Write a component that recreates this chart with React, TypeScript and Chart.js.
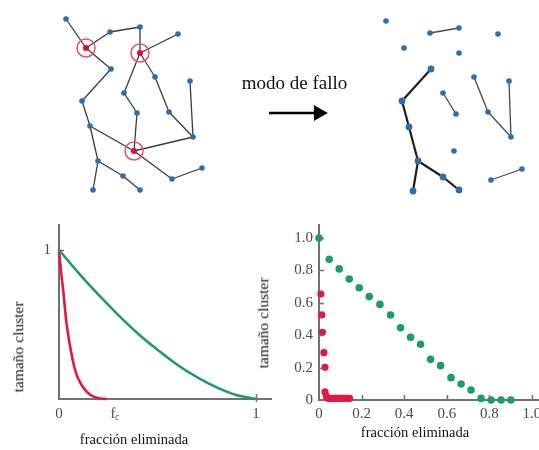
import React, { useEffect, useRef } from 'react';
import { Chart, registerables } from 'chart.js';

Chart.register(...registerables);

const SERIF = '"Liberation Serif", "Times New Roman", Times, serif';

// ---------------- Top: network before / after failure ----------------
const nodeIds = ['A', 'B', 'C', 'D', 'E', 'F', 'G', 'H', 'I', 'J', 'K', 'L', 'M', 'N', 'O', 'P', 'Q', 'R', 'S', 'T', 'U', 'V'];
const beforeX = [66, 86, 110, 140, 140, 178, 111, 155, 190, 124, 82, 169, 137, 90, 193, 134, 98, 202, 172, 123, 93, 140];
const beforeY = [19, 48, 32, 27, 53, 34, 69, 77, 81, 93, 101, 112, 113, 126, 137, 151, 161, 168, 179, 176, 190, 190];
const afterX = [386, 404, 430, 459, 459, 498, 431, 474, 509, 443, 402, 488, 456, 409, 511, 454, 418, 522, 491, 443, 413, 459];
const afterY = [21, 48, 33, 28, 53, 34, 69, 77, 81, 93, 101, 112, 114, 127, 137, 151, 161, 169, 180, 177, 191, 190];
const failedNodes = ['B', 'E', 'P'];
const beforeEdges = ['A-B', 'B-C', 'C-D', 'D-E', 'E-F', 'B-G', 'G-K', 'K-N', 'N-Q', 'Q-U', 'Q-T', 'T-V', 'N-P', 'E-J', 'J-M', 'M-P', 'E-H', 'H-L', 'L-O', 'I-O', 'P-O', 'P-S', 'S-R'];
const afterMainEdges = ['G-K', 'K-N', 'N-Q', 'Q-U', 'Q-T', 'T-V'];
const afterMinorEdges = ['C-D', 'J-M', 'H-L', 'L-O', 'I-O', 'S-R'];
const mainClusterNodes = ['G', 'K', 'N', 'Q', 'U', 'T', 'V'];
const arrowShaftX = [269, 314];
const arrowHeadX = [318.5];
const arrowY = [113];

// ---------------- Bottom left: schematic curves ----------------
const fcValue = 0.274;
const leftXTicks = [0, fcValue, 1];
const leftYTicks = [1];
const randomCurveX = [0, 0.1, 0.2, 0.3, 0.4, 0.5, 0.6, 0.7, 0.8, 0.9, 1.0];
const randomCurveY = [1, 0.845, 0.7, 0.565, 0.44, 0.33, 0.23, 0.147, 0.078, 0.027, 0];
const attackCurveX = [0, 0.01, 0.022, 0.039, 0.068, 0.09, 0.115, 0.149, 0.18, 0.208, 0.24];
const attackCurveY = [1, 0.86, 0.72, 0.5, 0.27, 0.16, 0.094, 0.038, 0.014, 0.004, 0];

// ---------------- Bottom right: simulated points ----------------
const axisTicks = [0, 0.2, 0.4, 0.6, 0.8, 1.0];
const randomPtsX = [0, 0.048, 0.095, 0.142, 0.189, 0.236, 0.286, 0.336, 0.383, 0.43, 0.477, 0.524, 0.571, 0.62, 0.667, 0.714, 0.761, 0.808, 0.855, 0.901];
const randomPtsY = [1.0, 0.869, 0.809, 0.747, 0.693, 0.638, 0.59, 0.525, 0.446, 0.387, 0.344, 0.251, 0.212, 0.138, 0.099, 0.062, 0.01, 0.0, 0.0, 0.0];
const attackPtsX = [0.009, 0.013, 0.016, 0.023, 0.028, 0.028, 0.034, 0.04, 0.048, 0.056, 0.064, 0.072, 0.08, 0.088, 0.096, 0.104, 0.112, 0.12, 0.128, 0.136, 0.144];
const attackPtsY = [0.654, 0.525, 0.418, 0.292, 0.202, 0.051, 0.025, 0.012, 0.01, 0.01, 0.01, 0.01, 0.01, 0.01, 0.01, 0.01, 0.01, 0.01, 0.01, 0.01, 0.01];

const GREEN = '#1c9b6d';
const RED = '#df1a41';
const BLUE = '#2d6eab';
const AXIS = '#727272';
const TICKTXT = '#4a4a4a';

const idx = (id: string) => nodeIds.indexOf(id);
const pt = (xs: number[], ys: number[], id: string) => ({ x: xs[idx(id)], y: ys[idx(id)] });
const zip = (xs: number[], ys: number[]) => xs.map((x, i) => ({ x, y: ys[i] }));

const edgeSets = (xs: number[], ys: number[], edges: string[], color: string, width: number) =>
  edges.map((e) => {
    const [a, b] = e.split('-');
    return {
      data: [pt(xs, ys, a), pt(xs, ys, b)],
      showLine: true,
      borderColor: color,
      borderWidth: width,
      pointRadius: 0,
      clip: false,
      order: 5,
    };
  });

const innerTicks = {
  id: 'innerTicks',
  afterDraw(chart: any, _a: any, opts: any) {
    const { ctx, chartArea: a, scales } = chart;
    const x = scales.x;
    const y = scales.y;
    ctx.save();
    ctx.strokeStyle = opts.color;
    ctx.lineWidth = opts.width;
    ctx.beginPath();
    (opts.xMarks || []).forEach((v: number) => {
      const p = Math.round(x.getPixelForValue(v)) + 0.5;
      ctx.moveTo(p, a.bottom + (opts.xOut || 0));
      ctx.lineTo(p, a.bottom - opts.len);
    });
    (opts.yMarks || []).forEach((v: number) => {
      const p = Math.round(y.getPixelForValue(v)) + 0.5;
      ctx.moveTo(a.left, p);
      ctx.lineTo(a.left + opts.len, p);
    });
    ctx.stroke();
    ctx.restore();
  },
};

const fcSubscript = {
  id: 'fcSubscript',
  afterDraw(chart: any) {
    const s = chart.scales.x;
    const px = s.getPixelForValue(fcValue);
    const ctx = chart.ctx;
    ctx.save();
    ctx.fillStyle = TICKTXT;
    ctx.font = `10px ${SERIF}`;
    ctx.textAlign = 'left';
    ctx.textBaseline = 'alphabetic';
    ctx.fillText('c', px + 2, chart.chartArea.bottom + 21);
    ctx.restore();
  },
};

const baseOptions = (padding: any) => ({
  responsive: false,
  animation: false,
  layout: { padding, autoPadding: false },
});

function networkConfig(): any {
  const failed = failedNodes.map((id) => pt(beforeX, beforeY, id));
  const beforeNormal = nodeIds.filter((id) => !failedNodes.includes(id)).map((id) => pt(beforeX, beforeY, id));
  const afterMain = mainClusterNodes.map((id) => pt(afterX, afterY, id));
  const afterOther = nodeIds.filter((id) => !mainClusterNodes.includes(id)).map((id) => pt(afterX, afterY, id));
  return {
    type: 'scatter',
    data: {
      datasets: [
        { data: failed, pointRadius: 9, pointBorderWidth: 1.5, pointBorderColor: '#e0566a', pointBackgroundColor: 'rgba(0,0,0,0)', clip: false, order: 0 },
        { data: failed, pointRadius: 3, pointBorderWidth: 0, pointBackgroundColor: '#d3103a', clip: false, order: 0 },
        { data: beforeNormal, pointRadius: 2.8, pointBorderWidth: 0, pointBackgroundColor: BLUE, clip: false, order: 1 },
        { data: afterMain, pointRadius: 3.4, pointBorderWidth: 0, pointBackgroundColor: BLUE, clip: false, order: 1 },
        { data: afterOther, pointRadius: 2.8, pointBorderWidth: 0, pointBackgroundColor: BLUE, clip: false, order: 1 },
        ...edgeSets(beforeX, beforeY, beforeEdges, '#3b3b3b', 1.3),
        ...edgeSets(afterX, afterY, afterMainEdges, '#1e1e1e', 2.2),
        ...edgeSets(afterX, afterY, afterMinorEdges, '#4a4a4a', 1.3),
        {
          data: arrowShaftX.map((x) => ({ x, y: arrowY[0] })),
          showLine: true, borderColor: '#000', borderWidth: 2.5, pointRadius: 0, clip: false, order: 2,
        },
        {
          data: arrowHeadX.map((x) => ({ x, y: arrowY[0] })),
          pointStyle: 'triangle', rotation: 90, pointRadius: 9.3, pointBorderWidth: 0,
          pointBackgroundColor: '#000', clip: false, order: 2,
        },
      ],
    },
    options: {
      ...baseOptions(0),
      plugins: { legend: { display: false }, tooltip: { enabled: false } },
      scales: {
        x: { type: 'linear', min: 0, max: 539, display: false },
        y: { type: 'linear', min: 0, max: 210, reverse: true, display: false },
      },
    },
  };
}

const tickFont = { family: SERIF, size: 15 };

function leftConfig(): any {
  return {
    type: 'scatter',
    data: {
      datasets: [
        { data: zip(randomCurveX, randomCurveY), showLine: true, borderColor: GREEN, borderWidth: 2.6, pointRadius: 0, cubicInterpolationMode: 'monotone', clip: false },
        { data: zip(attackCurveX, attackCurveY), showLine: true, borderColor: RED, borderWidth: 2.6, pointRadius: 0, cubicInterpolationMode: 'monotone', clip: false },
      ],
    },
    plugins: [innerTicks, fcSubscript],
    options: {
      ...baseOptions({ top: 10, left: 0, right: 0, bottom: 0 }),
      plugins: {
        legend: { display: false },
        tooltip: { enabled: false },
        innerTicks: { color: AXIS, width: 1.5, len: 5, xOut: 3, xMarks: [1], yMarks: [1] },
      },
      scales: {
        x: {
          type: 'linear', min: 0, max: 1.081,
          afterBuildTicks: (s: any) => { s.ticks = leftXTicks.map((v) => ({ value: v })); },
          afterFit: (s: any) => { s.height = 51; s.paddingLeft = 0; s.paddingRight = 0; },
          grid: { display: false, drawTicks: false },
          border: { display: true, color: AXIS, width: 2 },
          ticks: {
            padding: 6, color: TICKTXT, font: tickFont, autoSkip: false, maxRotation: 0,
            callback: (v: number) => (v === fcValue ? 'f' : String(v)),
          },
        },
        y: {
          type: 'linear', min: 0, max: 1.168,
          afterBuildTicks: (s: any) => { s.ticks = leftYTicks.map((v) => ({ value: v })); },
          afterFit: (s: any) => { s.width = 59; s.paddingTop = 0; s.paddingBottom = 0; },
          grid: { display: false, drawTicks: false },
          border: { display: true, color: AXIS, width: 2 },
          ticks: { padding: 8, color: TICKTXT, font: tickFont, callback: (v: number) => String(v) },
        },
      },
    },
  };
}

function rightConfig(): any {
  return {
    type: 'scatter',
    data: {
      datasets: [
        { data: zip(randomPtsX, randomPtsY), pointRadius: 3.8, pointBorderWidth: 0, pointBackgroundColor: GREEN, clip: false },
        { data: zip(attackPtsX, attackPtsY), pointRadius: 3.6, pointBorderWidth: 0, pointBackgroundColor: RED, clip: false },
      ],
    },
    plugins: [innerTicks],
    options: {
      ...baseOptions({ top: 10, left: 0, right: 0, bottom: 0 }),
      plugins: {
        legend: { display: false },
        tooltip: { enabled: false },
        innerTicks: { color: AXIS, width: 1.5, len: 5, xMarks: axisTicks.slice(1), yMarks: axisTicks.slice(1) },
      },
      scales: {
        x: {
          type: 'linear', min: 0, max: 1.033,
          afterBuildTicks: (s: any) => { s.ticks = axisTicks.map((v) => ({ value: v })); },
          afterFit: (s: any) => { s.height = 50; s.paddingLeft = 0; s.paddingRight = 0; },
          grid: { display: false, drawTicks: false },
          border: { display: true, color: AXIS, width: 2 },
          ticks: {
            padding: 5, color: TICKTXT, font: tickFont, autoSkip: false, maxRotation: 0,
            callback: (v: number) => (v === 0 ? '0' : v.toFixed(1)),
          },
        },
        y: {
          type: 'linear', min: 0, max: 1.08,
          afterBuildTicks: (s: any) => { s.ticks = axisTicks.map((v) => ({ value: v })); },
          afterFit: (s: any) => { s.width = 41; s.paddingTop = 0; s.paddingBottom = 0; },
          grid: { display: false, drawTicks: false },
          border: { display: true, color: AXIS, width: 2 },
          ticks: {
            padding: 6, color: TICKTXT, font: tickFont,
            callback: (v: number) => (v === 0 ? '0' : v.toFixed(1)),
          },
        },
      },
    },
  };
}

function ChartBox({ make, left, top, width, height }: { make: () => any; left: number; top: number; width: number; height: number }) {
  const ref = useRef<HTMLCanvasElement>(null);
  useEffect(() => {
    const chart = new Chart(ref.current as HTMLCanvasElement, make());
    return () => chart.destroy();
  }, []);
  return (
    <canvas
      ref={ref}
      width={width}
      height={height}
      style={{ position: 'absolute', left, top, width, height, display: 'block' }}
    />
  );
}

const label = (cx: number, cy: number, size: number, rotate = false): React.CSSProperties => ({
  position: 'absolute',
  left: cx,
  top: cy,
  transform: `translate(-50%, -50%)${rotate ? ' rotate(-90deg)' : ''}`,
  fontFamily: SERIF,
  fontSize: size,
  lineHeight: 1,
  whiteSpace: 'nowrap',
  color: '#111',
});

export default function App() {
  return (
    <div style={{ position: 'absolute', left: 0, top: 0, width: 539, height: 450, background: '#fff', overflow: 'hidden' }}>
      <ChartBox make={networkConfig} left={0} top={0} width={539} height={210} />
      <ChartBox make={leftConfig} left={0} top={215} width={272} height={235} />
      <ChartBox make={rightConfig} left={278} top={215} width={261} height={235} />
      <div style={label(294.5, 81.5, 19)}>modo de fallo</div>
      <div style={label(18, 347, 15.5, true)}>tamaño cluster</div>
      <div style={label(263, 323, 15.5, true)}>tamaño cluster</div>
      <div style={label(134, 439, 14.5)}>fracción eliminada</div>
      <div style={label(415, 432, 14.5)}>fracción eliminada</div>
    </div>
  );
}
